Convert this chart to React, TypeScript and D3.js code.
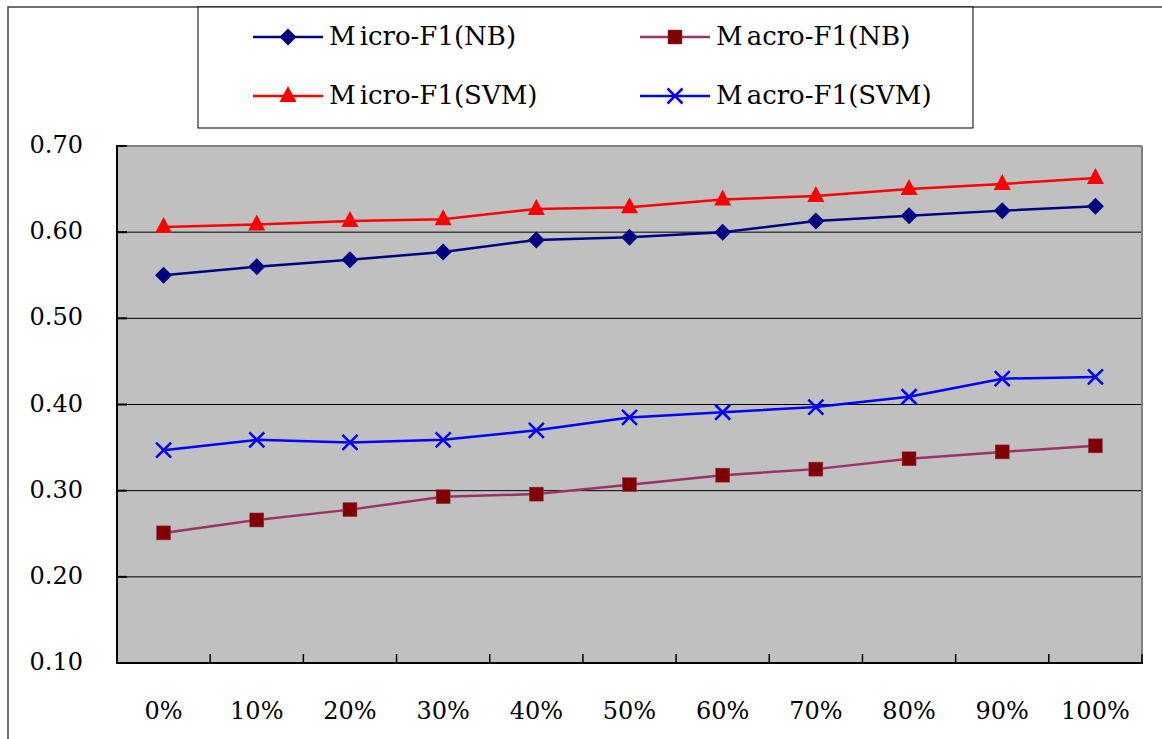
import React from "react";
import * as d3 from "d3";

const categories = ["0%", "10%", "20%", "30%", "40%", "50%", "60%", "70%", "80%", "90%", "100%"];
const microNB = [0.55, 0.56, 0.568, 0.577, 0.591, 0.594, 0.6, 0.613, 0.619, 0.625, 0.63];
const macroNB = [0.251, 0.266, 0.278, 0.293, 0.296, 0.307, 0.318, 0.325, 0.337, 0.345, 0.352];
const microSVM = [0.606, 0.609, 0.613, 0.615, 0.627, 0.629, 0.638, 0.642, 0.65, 0.656, 0.663];
const macroSVM = [0.347, 0.359, 0.356, 0.359, 0.37, 0.385, 0.391, 0.397, 0.409, 0.43, 0.432];
const yTicks = [0.1, 0.2, 0.3, 0.4, 0.5, 0.6, 0.7];

const series = [
  { name: "Micro-F1(NB)", values: microNB, line: "#000080", fill: "#000080", marker: "diamond" },
  { name: "Macro-F1(NB)", values: macroNB, line: "#993366", fill: "#800000", marker: "square" },
  { name: "Micro-F1(SVM)", values: microSVM, line: "#FF0000", fill: "#FF0000", marker: "triangle" },
  { name: "Macro-F1(SVM)", values: macroSVM, line: "#0000FF", fill: "#0000FF", marker: "x" },
];

const FONT = '"DejaVu Serif", serif';
const textStyle = { fontFamily: FONT };

function Marker({ type, x, y, color }: { type: string; x: number; y: number; color: string }) {
  if (type === "diamond") {
    const r = 8.5;
    return <path d={`M${x},${y - r}L${x + r},${y}L${x},${y + r}L${x - r},${y}Z`} fill={color} />;
  }
  if (type === "square") {
    const r = 7;
    return <rect x={x - r} y={y - r} width={2 * r} height={2 * r} fill={color} stroke="#993366" strokeWidth={0.5} />;
  }
  if (type === "triangle") {
    return <path d={`M${x},${y - 10}L${x + 8.5},${y + 6}L${x - 8.5},${y + 6}Z`} fill={color} />;
  }
  const r = 7.5;
  return (
    <path
      d={`M${x - r},${y - r}L${x + r},${y + r}M${x - r},${y + r}L${x + r},${y - r}`}
      stroke={color}
      strokeWidth={2.5}
      fill="none"
    />
  );
}

export default function App() {
  const W = 1162;
  const H = 739;
  const left = 117, right = 1142, top = 146, bottom = 663;
  const x = d3.scaleBand<string>().domain(categories).range([left, right]).padding(0);
  const y = d3.scaleLinear().domain([0.1, 0.7]).range([bottom, top]);
  const line = d3
    .line<number>()
    .x((_, i) => (x(categories[i]) as number) + x.bandwidth() / 2)
    .y((d) => y(d));

  const legendPos = [
    { lx: 253, ly: 37 },
    { lx: 640, ly: 37 },
    { lx: 253, ly: 96 },
    { lx: 640, ly: 96 },
  ];

  return (
    <svg
      width={W}
      height={H}
      style={{ position: "absolute", left: 0, top: 0, background: "#fff", fontFamily: FONT }}
    >
      <path d={`M8,${H}L8,7L${W},7`} fill="none" stroke="#404040" strokeWidth={1.5} />

      <rect x={left} y={top} width={right - left} height={bottom - top} fill="#C0C0C0" />
      {yTicks.slice(1, -1).map((t) => (
        <line key={t} x1={left} x2={right} y1={y(t)} y2={y(t)} stroke="#000" strokeWidth={1} />
      ))}
      <line x1={left} x2={right} y1={top} y2={top} stroke="#808080" strokeWidth={2} />
      <line x1={right} x2={right} y1={top} y2={bottom} stroke="#808080" strokeWidth={2} />
      <line x1={left} x2={left} y1={top - 1} y2={bottom + 1} stroke="#000" strokeWidth={2} />
      <line x1={left} x2={right + 1} y1={bottom} y2={bottom} stroke="#000" strokeWidth={2} />
      {yTicks.map((t) => (
        <line key={"yt" + t} x1={left} x2={left + 10} y1={y(t)} y2={y(t)} stroke="#000" strokeWidth={2} />
      ))}
      {categories.map((c, i) => {
        const bx = (x(c) as number) + x.bandwidth();
        return <line key={"xt" + i} x1={bx} x2={bx} y1={bottom} y2={bottom - 9} stroke="#000" strokeWidth={1.5} />;
      })}

      {yTicks.map((t) => (
        <text key={"yl" + t} x={83} y={y(t) + 7} textAnchor="end" fontSize={24} fill="#000" style={textStyle}>
          {t.toFixed(2)}
        </text>
      ))}
      {categories.map((c) => (
        <text
          key={"xl" + c}
          x={(x(c) as number) + x.bandwidth() / 2}
          y={719}
          textAnchor="middle"
          fontSize={24}
          fill="#000"
          style={textStyle}
        >
          {c}
        </text>
      ))}

      {series.map((s) => (
        <g key={s.name}>
          <path d={line(s.values) as string} fill="none" stroke={s.line} strokeWidth={2.5} />
          {s.values.map((v, i) => (
            <Marker
              key={i}
              type={s.marker}
              x={(x(categories[i]) as number) + x.bandwidth() / 2}
              y={y(v)}
              color={s.fill}
            />
          ))}
        </g>
      ))}

      <rect x={198} y={7} width={775} height={121} fill="#fff" stroke="#000" strokeWidth={1} />
      {series.map((s, i) => {
        const { lx, ly } = legendPos[i];
        const m = s.name.slice(0, 1);
        const rest = s.name.slice(1);
        return (
          <g key={"lg" + s.name}>
            <line x1={lx} x2={lx + 70} y1={ly} y2={ly} stroke={s.line} strokeWidth={2.5} />
            <Marker type={s.marker} x={lx + 35} y={ly} color={s.fill} />
            <text x={lx + 76} y={ly + 8} fontSize={26} fill="#000" style={textStyle}>
              <tspan>{m}</tspan>
              <tspan dx={4}>{rest}</tspan>
            </text>
          </g>
        );
      })}
    </svg>
  );
}
